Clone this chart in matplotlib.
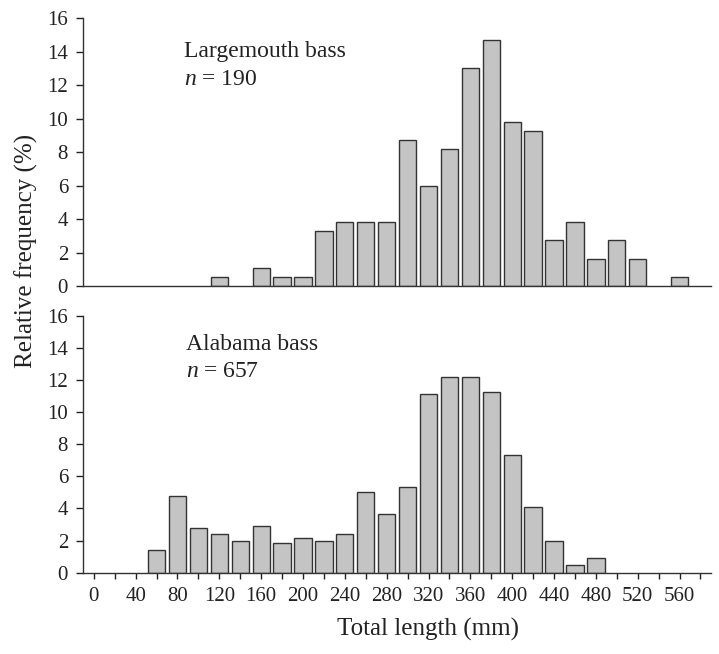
import numpy as np
import matplotlib
matplotlib.use("Agg")
from matplotlib import pyplot as plt

plt.rcParams['font.family'] = ['Liberation Serif', 'DejaVu Serif']
plt.rcParams['mathtext.fontset'] = 'custom'
plt.rcParams['mathtext.rm'] = 'Liberation Serif'
plt.rcParams['mathtext.it'] = 'Liberation Serif:italic'

# length classes (mm) and relative frequency (%)
lmb_len = [120, 160, 180, 200, 220, 240, 260, 280, 300, 320, 340, 360, 380,
           400, 420, 440, 460, 480, 500, 520, 560]
lmb_freq = [0.56, 1.1, 0.53, 0.53, 3.29, 3.8, 3.8, 3.8, 8.73, 6.0, 8.19, 13.05, 14.72,
            9.8, 9.24, 2.73, 3.81, 1.63, 2.73, 1.63, 0.56]

ab_len = [60, 80, 100, 120, 140, 160, 180, 200, 220, 240, 260, 280, 300, 320,
          340, 360, 380, 400, 420, 440, 460, 480]
ab_freq = [1.39, 4.75, 2.76, 2.43, 1.97, 2.88, 1.85, 2.16, 1.97, 2.43, 5.0, 3.67, 5.35, 11.12,
           12.18, 12.18, 11.27, 7.33, 4.11, 1.99, 0.46, 0.93]

txtc = '#222222'

fig = plt.figure(figsize=(7.19, 6.54), dpi=100)
ax1 = fig.add_axes([0.1159, 0.5627, 0.8729, 0.4093])
ax2 = fig.add_axes([0.1159, 0.1243, 0.8729, 0.3930])

def style(ax):
    ax.set_xlim(-10, 590)
    ax.set_ylim(0, 16)
    ax.set_yticks(np.arange(0, 17, 2))
    ax.spines['top'].set_visible(False)
    ax.spines['right'].set_visible(False)
    for s in ['left', 'bottom']:
        ax.spines[s].set_linewidth(1.0)
        ax.spines[s].set_color('#333333')
    ax.tick_params(axis='y', direction='out', length=5, width=1, labelsize=15,
                   colors=txtc, pad=6)

style(ax1)
style(ax2)

ax1.bar(lmb_len, lmb_freq, width=16.5, color='#c4c4c4', edgecolor='#333333', linewidth=1.0)
ax2.bar(ab_len, ab_freq, width=16.5, color='#c4c4c4', edgecolor='#333333', linewidth=1.0)

ax1.set_xticks([])
ax2.set_xticks(np.arange(0, 581, 20), minor=True)
ax2.set_xticks(np.arange(0, 561, 40))
ax2.tick_params(axis='x', which='both', direction='out', length=4, width=1,
                labelsize=15, colors=txtc, pad=6)

ax1.text(86.7, 13.7, 'Largemouth bass', fontsize=17, color=txtc, va='baseline')
ax1.text(86.7, 12.0, r'$n$ = 190', fontsize=17, color=txtc, va='baseline')
ax2.text(88.5, 13.87, 'Alabama bass', fontsize=17, color=txtc, va='baseline')
ax2.text(88.5, 12.2, r'$n$ = 657', fontsize=17, color=txtc, va='baseline')

fig.text(0.595, 0.038, 'Total length (mm)', fontsize=18, color=txtc,
         ha='center', va='center')
fig.text(0.036, 0.616, 'Relative frequency (%)', rotation=90, fontsize=18,
         color=txtc, ha='center', va='center')

fig.savefig('out.png', dpi=100)
